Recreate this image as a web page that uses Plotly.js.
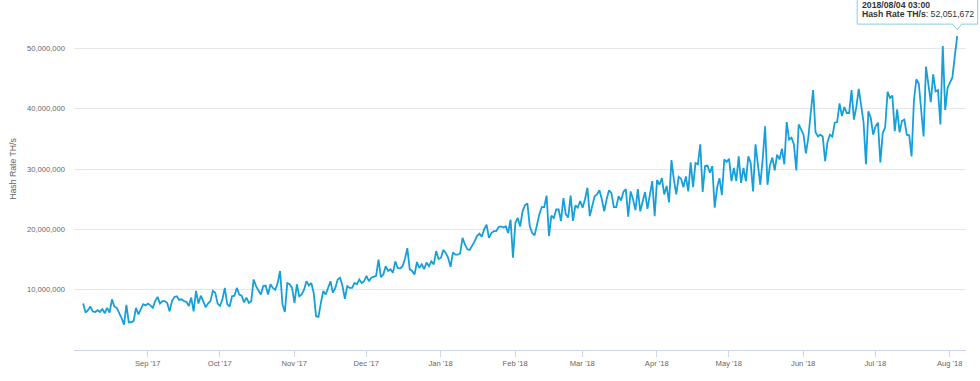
<!DOCTYPE html>
<html>
<head>
<meta charset="utf-8">
<script src="https://cdn.plot.ly/plotly-3.0.1.min.js"></script>
<style>
html,body{margin:0;padding:0;background:#ffffff;}
#chart{width:980px;height:381px;}
</style>
</head>
<body>
<div id="chart"></div>
<script>
// Daily hash rate, millions of TH/s, first sample 2017/08/05 03:00, one per day
const startTime = '2017-08-05T03:00:00Z';

const hashAugToNov2017 = [
  7.7, 6.2, 6.6, 7.2, 6.4, 6.3, 6.6, 6.3, 6.8, 6.1,
  7.0, 6.2, 8.4, 7.2, 7.0, 6.2, 5.3, 4.2, 7.5, 4.6,
  4.6, 4.8, 7.0, 5.9, 6.7, 7.6, 7.4, 7.7, 7.4, 7.0,
  8.1, 8.8, 7.7, 8.1, 8.1, 7.8, 6.4, 8.1, 8.8, 8.9,
  8.3, 8.4, 8.1, 8.0, 7.3, 8.7, 6.4, 9.8, 7.7, 9.0,
  8.1, 7.1, 7.7, 8.1, 9.8, 9.5, 7.7, 7.3, 8.4, 10.3,
  7.6, 7.2, 8.9, 9.0, 10.3, 9.2, 9.0, 7.9, 8.7, 7.8,
  8.1, 11.7, 10.6, 9.8, 9.2, 10.6, 10.7, 9.2, 10.9, 10.3,
  10.0, 11.1, 13.1, 7.6, 6.3, 11.1, 10.9, 10.3, 7.8, 10.9,
  8.9, 9.2, 10.0, 11.4, 10.7, 11.1
];
const hashNovToJan2018 = [
  9.5, 5.6, 5.5, 7.8, 9.8, 9.2, 10.3, 11.4, 9.5, 10.3,
  11.7, 12.0, 10.6, 8.5, 10.6, 10.3, 10.3, 11.1, 10.9, 11.7,
  11.1, 11.4, 12.3, 11.4, 12.0, 12.1, 12.3, 15.0, 12.1, 12.5,
  13.9, 13.1, 13.4, 12.8, 14.7, 13.6, 13.5, 13.9, 15.1, 16.9,
  13.4, 13.1, 12.5, 14.6, 13.6, 14.2, 13.4, 14.5, 13.9, 14.7,
  14.2, 16.4, 15.1, 15.3, 16.6, 16.1
];
const hashJan2018 = [
  15.3, 13.8, 16.2, 15.8, 15.8, 16.0, 18.6, 17.5, 16.7, 16.6,
  17.2, 18.0, 18.9, 19.3, 18.8, 20.0, 20.8, 18.6, 19.4, 19.7,
  19.7, 20.4, 20.5, 20.3, 20.5, 19.4, 21.6
];
const hashFebToApr2018 = [
  15.3, 21.1, 21.9, 20.5, 23.0, 24.0, 24.3, 20.5, 19.4, 19.0,
  21.0, 22.5, 23.7, 23.7, 25.6, 18.9, 22.3, 21.9, 23.3, 23.3,
  21.4, 25.2, 22.5, 22.0, 25.6, 21.4, 24.0, 23.6, 24.7, 23.6,
  25.0, 26.9, 22.2, 24.0, 25.5, 25.8, 26.5, 25.0, 23.0, 25.0,
  26.5, 26.0, 23.7, 23.7, 25.5, 24.8, 26.2, 26.7, 22.1, 26.3,
  25.0, 23.2, 26.7, 23.0, 24.7, 26.2, 23.4, 26.0, 28.0, 22.2,
  28.2, 27.4, 28.5, 25.8, 27.2, 24.5, 31.5, 28.3, 25.8, 28.7,
  28.4, 27.0, 28.8, 26.3, 31.1, 27.0, 31.0, 30.8, 34.1, 26.2,
  30.5, 30.6, 29.4, 30.5, 23.6, 26.9, 28.5, 25.7, 31.6, 31.2,
  31.7
];
const hashMayToAug2018 = [
  28.0, 30.2, 28.0, 32.1, 27.7, 30.2, 28.0, 32.1, 31.0, 26.3,
  34.1, 31.0, 27.4, 31.7, 37.1, 27.4, 30.6, 31.9, 29.8, 32.4,
  31.6, 33.4, 30.8, 37.8, 34.9, 35.2, 34.1, 29.8, 37.4, 36.6,
  35.7, 32.6, 35.2, 39.3, 43.1, 36.1, 35.4, 35.7, 35.4, 31.3,
  34.5, 35.7, 35.4, 37.7, 37.8, 40.9, 38.8, 40.3, 39.3, 39.3,
  43.1, 38.2, 40.3, 43.3, 40.7, 37.8, 30.8, 39.6, 38.5, 35.7,
  37.1, 37.7, 31.1, 36.0, 36.9, 42.8, 41.8, 42.2, 36.3, 39.9,
  36.1, 38.0, 38.2, 35.7, 35.6, 32.1, 41.5, 44.9, 44.2, 39.9,
  35.4, 47.0, 43.6, 41.1, 45.7, 42.9, 43.1, 37.4, 50.4, 39.8,
  43.5, 44.4, 45.2, 48.7, 52.051672
];

const monthTicks = ['2017-09-01','2017-10-01','2017-11-01','2017-12-01','2018-01-01','2018-02-01',
                    '2018-03-01','2018-04-01','2018-05-01','2018-06-01','2018-07-01','2018-08-01'];
const monthLabels = ["Sep '17","Oct '17","Nov '17","Dec '17","Jan '18","Feb '18",
                     "Mar '18","Apr '18","May '18","Jun '18","Jul '18","Aug '18"];
const yTicks = [10000000, 20000000, 30000000, 40000000, 50000000];
const seriesName = 'Hash Rate TH/s';
const tooltipDate = '2018/08/04 03:00';

// ---- build ----
const hashValues = [].concat(hashAugToNov2017, hashNovToJan2018, hashJan2018, hashFebToApr2018, hashMayToAug2018)
  .map(v => Math.round(v * 1e6));
const t0 = Date.parse(startTime);
const hashDates = hashValues.map((_, i) => new Date(t0 + i * 86400000).toISOString().slice(0, 16).replace('T', ' '));

const xRange = ['2017-08-01 07:25', '2018-08-07 19:00'];
const yRange = [0, 58040000];

const lastI = hashValues.length - 1;
const lastX = hashDates[lastI];
const lastY = hashValues[lastI];
// anchor of the tooltip in paper fractions, from the axis scales
const dateMs = s => Date.parse(s.replace(' ', 'T') + ':00Z');
const anchorXp = (dateMs(lastX) - dateMs(xRange[0])) / (dateMs(xRange[1]) - dateMs(xRange[0]));
const anchorYp = (lastY - yRange[0]) / (yRange[1] - yRange[0]);

const fontFam = '"Liberation Sans", Arial, Helvetica, sans-serif';

const trace = {
  type: 'scatter',
  mode: 'lines',
  name: seriesName,
  x: hashDates,
  y: hashValues,
  line: {color: '#16a0d9', width: 1.8},
  hoverinfo: 'skip'
};

const layout = {
  width: 980,
  height: 381,
  margin: {l: 74, r: 14, t: 0, b: 31, pad: 0},
  paper_bgcolor: '#ffffff',
  plot_bgcolor: '#ffffff',
  showlegend: false,
  font: {family: fontFam, color: '#666666'},
  xaxis: {
    type: 'date',
    range: xRange,
    tickmode: 'array',
    tickvals: monthTicks,
    ticktext: monthLabels,
    ticks: 'outside',
    ticklen: 6,
    tickwidth: 1,
    tickcolor: '#ccd6eb',
    showline: true,
    linecolor: '#ccd6eb',
    linewidth: 1,
    showgrid: false,
    zeroline: false,
    tickfont: {family: fontFam, size: 7.6, color: '#666666'},
    fixedrange: true
  },
  yaxis: {
    range: yRange,
    tickmode: 'array',
    tickvals: yTicks,
    tickformat: ',d',
    showgrid: true,
    gridcolor: '#e6e6e6',
    gridwidth: 1,
    zeroline: false,
    showline: false,
    ticks: '',
    ticklabelstandoff: 8,
    tickfont: {family: fontFam, size: 7.6, color: '#666666'},
    fixedrange: true
  },
  shapes: [{
    type: 'path',
    xref: 'paper', yref: 'paper',
    xsizemode: 'pixel', ysizemode: 'pixel',
    xanchor: anchorXp, yanchor: anchorYp,
    path: 'M -100,12 L -4.5,12 L 0,6.5 L 4.5,12 L 20.5,12 L 20.5,70 L -100,70 Z',
    fillcolor: 'rgba(255,255,255,0.96)',
    line: {color: '#8ccbea', width: 1},
    layer: 'above'
  }],
  annotations: [
    {
      xref: 'paper', yref: 'paper',
      x: -0.0687, y: 0.517,
      text: seriesName,
      textangle: -90,
      showarrow: false,
      xanchor: 'center', yanchor: 'middle',
      font: {family: fontFam, size: 8.7, color: '#666666'}
    },
    {
      xref: 'x', yref: 'y',
      x: lastX, y: lastY,
      xanchor: 'left', yanchor: 'middle',
      xshift: -97, yshift: 31,
      showarrow: false,
      align: 'left',
      text: '<b>' + tooltipDate + '</b>',
      font: {family: fontFam, size: 8.7, color: '#333333'}
    },
    {
      xref: 'x', yref: 'y',
      x: lastX, y: lastY,
      xanchor: 'left', yanchor: 'middle',
      xshift: -97, yshift: 22,
      showarrow: false,
      align: 'left',
      text: '<b>' + seriesName + '</b>: ' + lastY.toLocaleString('en-US'),
      font: {family: fontFam, size: 8.7, color: '#333333'}
    }
  ]
};

Plotly.newPlot('chart', [trace], layout, {displayModeBar: false, staticPlot: true, responsive: false});
</script>
</body>
</html>
